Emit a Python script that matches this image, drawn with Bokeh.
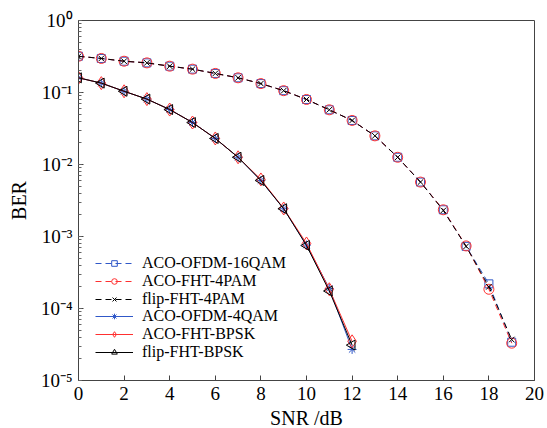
import numpy as np
from bokeh.plotting import figure
from bokeh.models import Legend, LegendItem, CustomJSTickFormatter, LogTicker, FixedTicker
from bokeh.embed import file_html
from bokeh.resources import INLINE

snr_high = list(range(0, 20))
ber_aco_ofdm_16qam = [0.319, 0.297, 0.272, 0.258, 0.232, 0.211, 0.184, 0.160, 0.133, 0.106,
                      0.080, 0.0575, 0.0409, 0.0250, 0.0126, 0.0057, 0.00235, 7.3e-4, 2.2e-4, 3.4e-5]
ber_aco_fht_4pam = [0.319, 0.297, 0.272, 0.258, 0.232, 0.211, 0.184, 0.160, 0.133, 0.106,
                    0.080, 0.0575, 0.0409, 0.0250, 0.0126, 0.0057, 0.00235, 7.4e-4, 1.85e-4, 3.3e-5]
ber_flip_fht_4pam = [0.318, 0.297, 0.272, 0.258, 0.232, 0.211, 0.184, 0.160, 0.133, 0.106,
                     0.080, 0.0575, 0.0409, 0.0250, 0.0126, 0.0057, 0.00230, 7.3e-4, 2.0e-4, 3.7e-5]

snr_low = list(range(0, 13))
ber_aco_ofdm_4qam = [0.160, 0.135, 0.104, 0.081, 0.058, 0.0383, 0.023, 0.0126, 0.0060, 0.00243,
                     7.6e-4, 1.9e-4, 2.7e-5]
ber_aco_fht_bpsk = [0.160, 0.135, 0.104, 0.081, 0.058, 0.0383, 0.023, 0.0126, 0.0062, 0.00245,
                    8.0e-4, 1.85e-4, 3.5e-5]
ber_flip_fht_bpsk = [0.160, 0.135, 0.104, 0.081, 0.058, 0.0383, 0.023, 0.0126, 0.0060, 0.00243,
                     7.5e-4, 1.75e-4, 3.1e-5]

labels = ["ACO-OFDM-16QAM", "ACO-FHT-4PAM", "flip-FHT-4PAM",
          "ACO-OFDM-4QAM", "ACO-FHT-BPSK", "flip-FHT-BPSK"]
x_ticks = [0, 2, 4, 6, 8, 10, 12, 14, 16, 18, 20]

BLUE = "#3058c8"
RED = "#ff3030"
BLACK = "#000000"
FONT = "Liberation Serif"

p = figure(output_backend="svg", toolbar_location=None, y_axis_type="log",
           x_range=(0, 20), y_range=(1e-5, 1),
           frame_width=456, frame_height=360,
           min_border_left=78, min_border_right=12, min_border_top=20, min_border_bottom=47)
p.background_fill_color = "white"
p.border_fill_color = "white"
p.outline_line_color = "#444444"
p.outline_line_width = 1
p.xgrid.visible = False
p.ygrid.visible = False

specs = [
    (snr_high, ber_aco_ofdm_16qam, BLUE, "6 4", "square", 8, 0.0),
    (snr_high, ber_aco_fht_4pam, RED, "6 4", "circle", 10, 0.0),
    (snr_high, ber_flip_fht_4pam, BLACK, "6 4", "x", 8, 0.0),
    (snr_low, ber_aco_ofdm_4qam, BLUE, "solid", "asterisk", 9, 0.0),
    (snr_low, ber_aco_fht_bpsk, RED, "solid", "diamond", 13, 0.0),
    (snr_low, ber_flip_fht_bpsk, BLACK, "solid", "triangle", 10, np.pi / 2),
]

# one single-row legend per series, stacked with a tight row pitch
ROW_PITCH = 17.8
BOTTOM_Y = 19
n = len(specs)
for i, ((xs, ys, col, dash, mk, sz, ang), lab) in enumerate(zip(specs, labels)):
    ln = p.line(xs, ys, line_color=col, line_dash=dash, line_width=1)
    sc = p.scatter(xs, ys, marker=mk, size=sz, angle=ang, angle_units="rad",
                   line_color=col, fill_color=None, line_width=1)
    lg = Legend(items=[LegendItem(label=lab, renderers=[ln, sc])],
                location=(17, BOTTOM_Y + (n - 1 - i) * ROW_PITCH),
                border_line_color=None, background_fill_alpha=0.0,
                padding=0, margin=0, spacing=0,
                glyph_width=38, glyph_height=14, label_height=14,
                label_standoff=9, label_text_font=FONT, label_text_font_size="16px",
                label_text_color="#000000")
    p.add_layout(lg, "center")

p.xaxis.ticker = FixedTicker(ticks=x_ticks)
p.yaxis.ticker = LogTicker(num_minor_ticks=10)
p.yaxis.formatter = CustomJSTickFormatter(code="""
const sup = {'-':'\u207b','0':'\u2070','1':'\u00b9','2':'\u00b2','3':'\u00b3','4':'\u2074','5':'\u2075','6':'\u2076','7':'\u2077','8':'\u2078','9':'\u2079'};
const e = Math.round(Math.log10(tick));
return '10' + String(e).split('').map(c => sup[c]).join('');
""")

for ax in (p.xaxis[0], p.yaxis[0]):
    ax.axis_line_color = "#444444"
    ax.major_tick_in = 5
    ax.major_tick_out = 0
    ax.minor_tick_in = 3
    ax.minor_tick_out = 0
    ax.major_tick_line_color = "#444444"
    ax.minor_tick_line_color = "#666666"
    ax.major_label_text_font = FONT
    ax.major_label_text_font_size = "19px"
    ax.major_label_text_color = "#000000"
    ax.axis_label_text_font = FONT
    ax.axis_label_text_font_size = "20px"
    ax.axis_label_text_font_style = "normal"
    ax.axis_label_text_color = "#000000"

p.xaxis.minor_tick_line_color = None
p.xaxis.major_label_standoff = 6
p.yaxis.major_label_standoff = 6
p.xaxis.axis_label = "SNR /dB"
p.yaxis.axis_label = "BER"
p.xaxis.axis_label_standoff = 4
p.yaxis.axis_label_standoff = 8

open("out.html", "w").write(file_html(p, INLINE))
